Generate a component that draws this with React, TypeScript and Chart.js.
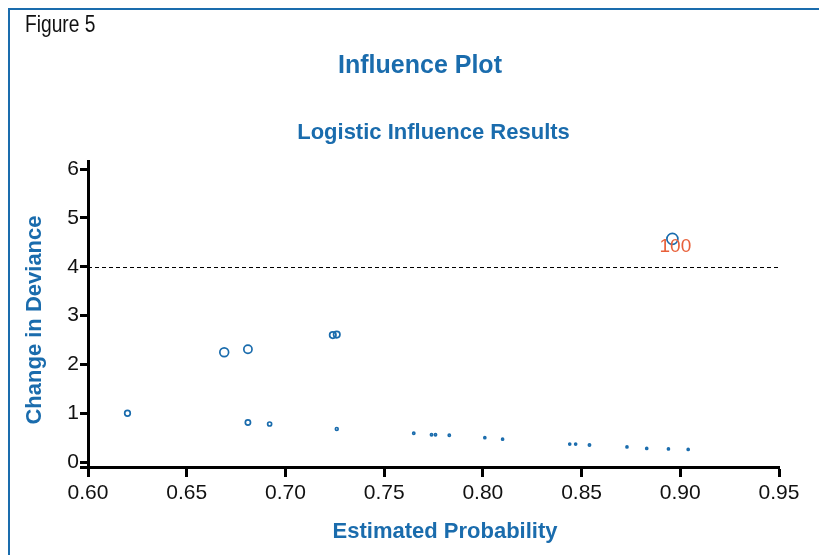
import { useEffect, useRef } from "react";
import { Chart, registerables } from "chart.js";

Chart.register(...registerables);

// ---- data ----
const probs = [0.620, 0.669, 0.681, 0.724, 0.726, 0.681, 0.692, 0.726, 0.765, 0.774, 0.776, 0.783, 0.801, 0.810, 0.844, 0.847, 0.854, 0.873, 0.883, 0.894, 0.904, 0.896];
const devChange = [1.00, 2.25, 2.31, 2.60, 2.61, 0.81, 0.78, 0.68, 0.59, 0.56, 0.56, 0.55, 0.50, 0.47, 0.37, 0.37, 0.35, 0.31, 0.28, 0.27, 0.26, 4.57];
const bubbleR = [2.8, 4.4, 4.1, 3.2, 3.2, 2.6, 2.0, 1.4, 1.1, 1.1, 1.1, 1.1, 1.0, 1.0, 1.0, 1.0, 1.1, 1.0, 1.0, 1.0, 1.0, 5.5];
const obsLabels = ["", "", "", "", "", "", "", "", "", "", "", "", "", "", "", "", "", "", "", "", "", "100"];
const threshold = 4;
const xTicks = [0.60, 0.65, 0.70, 0.75, 0.80, 0.85, 0.90, 0.95];
const yTicks = [0, 1, 2, 3, 4, 5, 6];

const figureLabel = "Figure 5";
const mainTitle = "Influence Plot";
const subTitle = "Logistic Influence Results";
const xTitle = "Estimated Probability";
const yTitle = "Change in Deviance";

const BLUE = "#1a6cad";
const ORANGE = "#e8603a";
const FONT = '"Liberation Sans", Arial, sans-serif';

const W = 819;
const H = 547;

export default function App() {
  const ref = useRef<HTMLCanvasElement | null>(null);

  useEffect(() => {
    document.documentElement.style.overflow = "hidden";
    document.body.style.overflow = "hidden";
    if (!ref.current) return;
    const annotate = {
      id: "annotate",
      beforeDraw(chart: any) {
        const { ctx } = chart;
        ctx.save();
        ctx.fillStyle = BLUE;
        ctx.fillRect(0, 0, W, 2);
        ctx.fillRect(0, 0, 2, H);
        ctx.restore();
      },
      beforeDatasetsDraw(chart: any) {
        const { ctx, chartArea, scales } = chart;
        const y = scales.y.getPixelForValue(threshold);
        ctx.save();
        ctx.strokeStyle = "#000";
        ctx.lineWidth = 1;
        ctx.setLineDash([4, 3]);
        ctx.beginPath();
        ctx.moveTo(chartArea.left, Math.round(y) + 0.5);
        ctx.lineTo(chartArea.right, Math.round(y) + 0.5);
        ctx.stroke();
        ctx.restore();
        // extend x axis line to the left, under the y ticks
        const yb = scales.x.top;
        ctx.save();
        ctx.strokeStyle = "#000";
        ctx.lineWidth = 3;
        ctx.beginPath();
        ctx.moveTo(chartArea.left - 8, Math.round(yb) + 0.5);
        ctx.lineTo(chartArea.left, Math.round(yb) + 0.5);
        ctx.stroke();
        ctx.restore();
      },
      afterDraw(chart: any) {
        const { ctx, chartArea, scales } = chart;
        ctx.save();
        ctx.textBaseline = "alphabetic";
        // figure label (condensed)
        ctx.save();
        ctx.fillStyle = "#111";
        ctx.textAlign = "left";
        ctx.font = `24px ${FONT}`;
        ctx.translate(17, 24);
        ctx.scale(0.8, 1);
        ctx.fillText(figureLabel, 0, 0);
        ctx.restore();
        // titles
        ctx.fillStyle = BLUE;
        ctx.textAlign = "center";
        ctx.font = `bold 25px ${FONT}`;
        ctx.fillText(mainTitle, 412, 65);
        ctx.font = `bold 22px ${FONT}`;
        ctx.fillText(subTitle, (chartArea.left + chartArea.right) / 2, 131);
        // axis titles
        ctx.fillText(xTitle, 437, 530);
        ctx.save();
        ctx.translate(33, 312);
        ctx.rotate(-Math.PI / 2);
        ctx.fillText(yTitle, 0, 0);
        ctx.restore();
        // point labels
        ctx.fillStyle = ORANGE;
        ctx.font = `19px ${FONT}`;
        ctx.textBaseline = "middle";
        for (let i = 0; i < obsLabels.length; i++) {
          if (!obsLabels[i]) continue;
          const px = scales.x.getPixelForValue(probs[i]);
          const py = scales.y.getPixelForValue(devChange[i]);
          ctx.fillText(obsLabels[i], px + 3, py + 8);
        }
        ctx.restore();
      },
    };

    const chart = new Chart(ref.current, {
      type: "bubble",
      data: {
        datasets: [
          {
            data: probs.map((p, i) => ({ x: p, y: devChange[i], r: bubbleR[i] })),
            borderColor: BLUE,
            backgroundColor: "rgba(0,0,0,0)",
            borderWidth: 1.7,
          },
        ],
      },
      options: {
        responsive: false,
        animation: false,
        layout: { padding: { left: 40, right: 48, top: 153.7, bottom: 38 } },
        plugins: {
          legend: { display: false },
          tooltip: { enabled: false },
          title: { display: false },
        },
        scales: {
          x: {
            type: "linear",
            min: 0.6,
            max: 0.95,
            afterBuildTicks: (s: any) => {
              s.ticks = xTicks.map((v) => ({ value: v }));
            },
            afterFit: (s: any) => {
              s.height = 50;
            },
            ticks: {
              color: "#111",
              font: { family: FONT, size: 21 },
              padding: 4,
              maxRotation: 0,
              callback: (v: any) => Number(v).toFixed(2),
            },
            grid: {
              drawOnChartArea: false,
              drawTicks: true,
              tickLength: 10,
              tickWidth: 3,
              tickColor: "#000",
            },
            border: { color: "#000", width: 3 },
          },
          y: {
            type: "linear",
            min: -0.1,
            max: 6.15,
            afterBuildTicks: (s: any) => {
              s.ticks = yTicks.map((v) => ({ value: v }));
            },
            afterFit: (s: any) => {
              s.width = 40;
            },
            ticks: {
              color: "#111",
              font: { family: FONT, size: 21 },
              padding: 1,
              callback: (v: any) => String(v),
            },
            grid: {
              drawOnChartArea: false,
              drawTicks: true,
              tickLength: 8,
              tickWidth: 3,
              tickColor: "#000",
            },
            border: { color: "#000", width: 3 },
          },
        },
      },
      plugins: [annotate],
    } as any);
    return () => chart.destroy();
  }, []);

  return <canvas ref={ref} width={W} height={H} style={{ display: "block" }} />;
}
